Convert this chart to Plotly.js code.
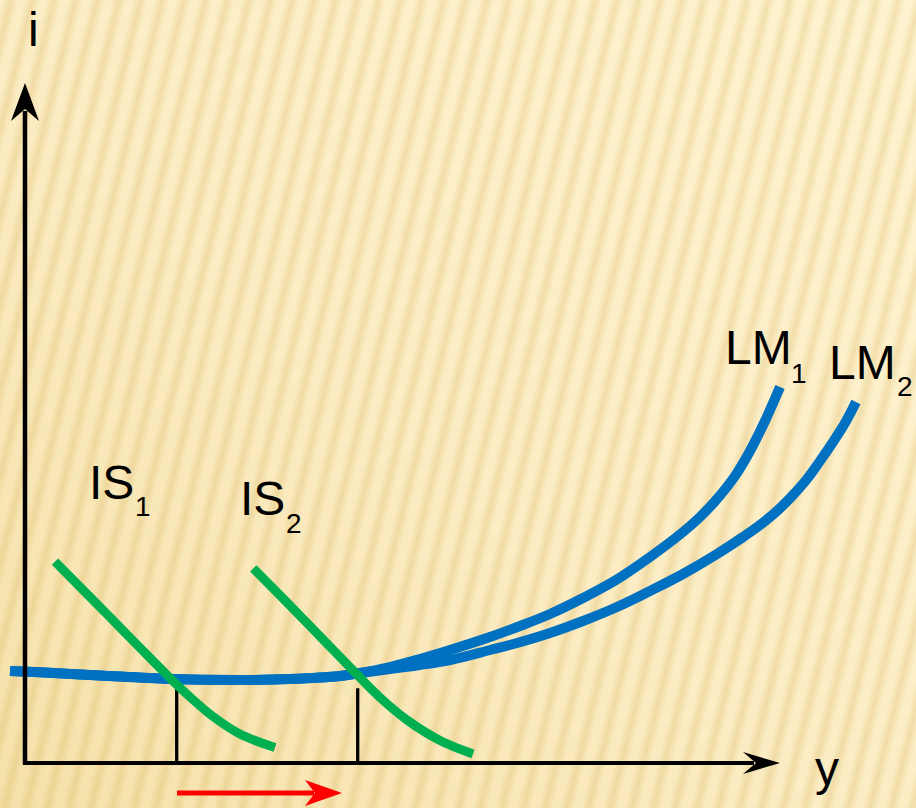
<!DOCTYPE html>
<html>
<head>
<meta charset="utf-8">
<script src="https://cdn.plot.ly/plotly-3.0.1.min.js"></script>
<style>
  html, body { margin: 0; padding: 0; }
  body {
    width: 916px; height: 808px; overflow: hidden;
    background:
      repeating-linear-gradient(104deg, rgba(0,0,0,0) 0px, rgba(0,0,0,0) 3px, rgba(212,172,80,0.26) 10.5px, rgba(0,0,0,0) 18px, rgba(0,0,0,0) 21px),
      linear-gradient(to top right, #F5E1A9 0%, #FBECC3 45%, #FEF3D0 100%);
  }
  #chart { width: 916px; height: 808px; }
</style>
</head>
<body>
<div id="chart"></div>
<script>
// ---- data (units: origin at the axes' intersection) ----
const lm1X = [-15, 15, 75, 145, 215, 265, 315, 332, 365, 395, 425, 465, 495, 525, 558, 591, 625, 658, 675, 692, 710, 725, 740, 755];
const lm1Y = [92, 90.7, 87.5, 84, 83, 84, 87, 89.5, 96, 104, 113, 126, 137, 149, 165, 183, 206, 231, 246, 264, 287, 312, 342, 376];
const lm2X = [-15, 15, 75, 145, 215, 265, 315, 332, 365, 395, 425, 465, 492, 525, 558, 592, 625, 658, 692, 718, 735, 752, 768, 782, 795, 808, 820, 831];
const lm2Y = [92, 90.7, 87.5, 84, 83, 84, 87, 89.5, 94, 98, 103, 113, 120, 130, 142, 156, 172, 189, 209, 226, 238, 252, 268, 284, 302, 321, 340, 361];
const is1X = [30, 65, 98, 132, 148, 165, 188, 215, 250];
const is1Y = [201.3, 166, 132.5, 98, 82, 66, 46.5, 29, 15.5];
const is2X = [228.3, 265, 298, 332, 355, 382, 415, 448];
const is2Y = [194.7, 157.5, 123.5, 88.5, 65.5, 43, 22.5, 9];
const eqIncome = [151.7, 332.7];
const eqTop = 74.7;
const labels = ["LM", "LM", "IS", "IS"];
const subs = ["1", "2", "1", "2"];
const axisLabels = ["i", "y"];
// decoration geometry
const yAxisTip = [0, 680];
const xAxisTip = [755, 0];
const shiftArrow = [152, 317, -30];

function head(tx, ty, dx, dy, len, half, notch) {
  // stealth arrowhead pointing in direction (dx,dy)
  const px = -dy, py = dx;
  const bx = tx - dx * len, by = ty - dy * len;
  const nx = tx - dx * (len - notch), ny = ty - dy * (len - notch);
  return `M${tx},${ty} L${bx + px * half},${by + py * half} L${nx},${ny} L${bx - px * half},${by - py * half} Z`;
}

const blue = '#0070C0', green = '#00B050';
const traces = [
  {x: lm2X, y: lm2Y, mode: 'lines', line: {color: blue, width: 10, shape: 'spline', smoothing: 1}, hoverinfo: 'skip'},
  {x: lm1X, y: lm1Y, mode: 'lines', line: {color: blue, width: 10, shape: 'spline', smoothing: 1}, hoverinfo: 'skip'},
  {x: [eqIncome[0], eqIncome[0], null, eqIncome[1], eqIncome[1]], y: [0, eqTop, null, 0, eqTop],
   mode: 'lines', line: {color: '#000', width: 3.3}, hoverinfo: 'skip'},
  {x: is1X, y: is1Y, mode: 'lines', line: {color: green, width: 9, shape: 'spline', smoothing: 1}, hoverinfo: 'skip'},
  {x: is2X, y: is2Y, mode: 'lines', line: {color: green, width: 9, shape: 'spline', smoothing: 1}, hoverinfo: 'skip'}
];

const shapes = [
  {type: 'line', xref: 'x', yref: 'y', x0: 0, y0: -2, x1: 0, y1: yAxisTip[1] - 28, line: {color: '#000', width: 4.5}},
  {type: 'path', xref: 'x', yref: 'y', path: head(yAxisTip[0], yAxisTip[1], 0, 1, 38, 14, 12), fillcolor: '#000', line: {width: 0}},
  {type: 'line', xref: 'x', yref: 'y', x0: -2, y0: 0, x1: xAxisTip[0] - 26, y1: 0, line: {color: '#000', width: 4}},
  {type: 'path', xref: 'x', yref: 'y', path: head(xAxisTip[0], xAxisTip[1], 1, 0, 37, 11, 13), fillcolor: '#000', line: {width: 0}},
  {type: 'line', xref: 'x', yref: 'y', x0: shiftArrow[0], y0: shiftArrow[2], x1: shiftArrow[1] - 28, y1: shiftArrow[2], line: {color: '#FF0000', width: 5}},
  {type: 'path', xref: 'x', yref: 'y', path: head(shiftArrow[1], shiftArrow[2], 1, 0, 37, 13, 10), fillcolor: '#FF0000', line: {width: 0}}
];

const fam = '"Liberation Sans", Arial, sans-serif';
function txt(t, x, y, size) {
  return {text: t, x: x, y: y, xref: 'x', yref: 'y', showarrow: false, xanchor: 'center', yanchor: 'middle',
          font: {family: fam, size: size, color: '#000'}};
}
const annotations = [
  txt(labels[0], 733.5, 415.5, 48), txt(subs[0], 774, 390, 28),
  txt(labels[1], 837.5, 400.5, 48), txt(subs[1], 880, 376.3, 28),
  txt(labels[2], 86.7, 280.5, 48), txt(subs[2], 118.3, 256.3, 28),
  txt(labels[3], 237.5, 264.7, 48), txt(subs[3], 269.2, 240, 28),
  txt(axisLabels[0], 8.5, 734, 48),
  txt(axisLabels[1], 802, -5.4, 48)
];

const layout = {
  width: 916, height: 808,
  margin: {l: 0, r: 0, t: 0, b: 0, pad: 0},
  paper_bgcolor: 'rgba(0,0,0,0)', plot_bgcolor: 'rgba(0,0,0,0)',
  showlegend: false,
  xaxis: {range: [-25, 891], visible: false, fixedrange: true},
  yaxis: {range: [-45, 763], visible: false, fixedrange: true},
  shapes: shapes,
  annotations: annotations
};
Plotly.newPlot('chart', traces, layout, {displayModeBar: false, staticPlot: true});
</script>
</body>
</html>
